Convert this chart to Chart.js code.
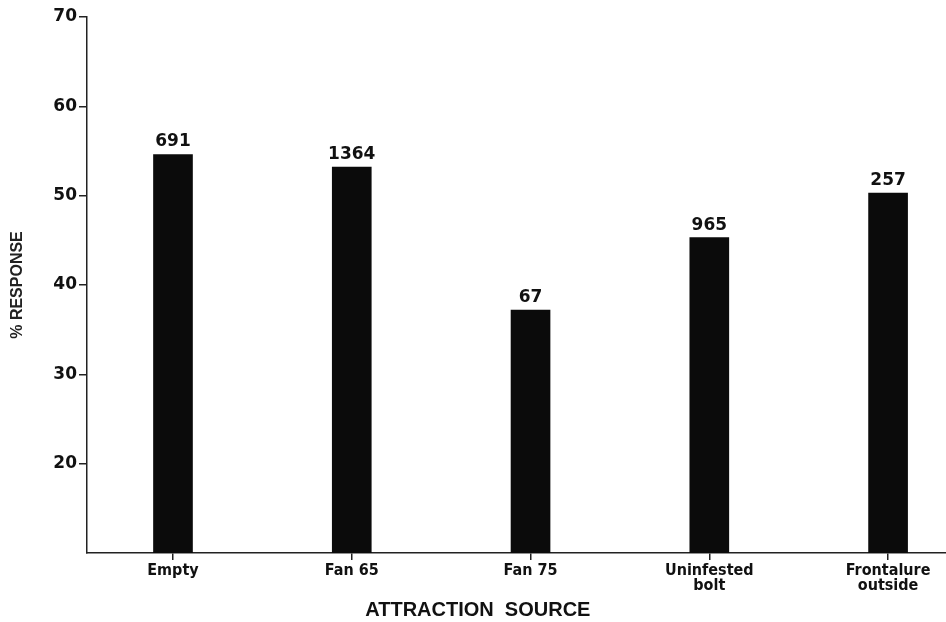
<!DOCTYPE html>
<html>
<head>
<meta charset="utf-8">
<script src="https://cdn.jsdelivr.net/npm/chart.js@4.4.1/dist/chart.umd.min.js"></script>
<style>
  html, body { margin: 0; padding: 0; background: #fff; }
  #wrap { width: 946px; height: 622px; position: relative; }
</style>
</head>
<body>
<div id="wrap"><canvas id="chart_risposta"></canvas></div>
<script>
// dati
var sorgenti = ['Empty', 'Fan 65', 'Fan 75', ['Uninfested', 'bolt'], ['Frontalure', 'outside']];
var percentuali = [54.6, 53.2, 37.2, 45.3, 50.3];
var numeri = ['691', '1364', '67', '965', '257'];
var yTicks = [20, 30, 40, 50, 60, 70];

var fontNumeri = "'DejaVu Sans', sans-serif";
var fontNarrow = "'Liberation Sans Narrow', 'DejaVu Sans Condensed', 'Roboto', sans-serif";

// numeri sopra le barre + titolo asse x
var etichette = {
  id: 'etichette',
  afterDatasetsDraw: function (chart) {
    var ctx = chart.ctx;
    var meta = chart.getDatasetMeta(0);
    ctx.save();
    ctx.fillStyle = '#111';
    ctx.font = 'bold 17px ' + fontNumeri;
    ctx.textAlign = 'center';
    ctx.textBaseline = 'bottom';
    meta.data.forEach(function (bar, i) {
      ctx.fillText(numeri[i], bar.x, bar.y - 4);
    });
    var area = chart.chartArea;
    ctx.font = 'bold 20px Arial, "Liberation Sans", sans-serif';
    ctx.textBaseline = 'middle';
    ctx.fillText('ATTRACTION  SOURCE', area.left + (area.right - area.left) * 0.455, 610);
    ctx.restore();
  }
};

var grafico = new Chart(document.getElementById('chart_risposta'), {
  type: 'bar',
  data: {
    datasets: [{
      data: percentuali.map(function (v, i) { return { x: i, y: v }; }),
      backgroundColor: '#0b0b0b',
      borderWidth: 0,
      barThickness: 39
    }]
  },
  plugins: [etichette],
  options: {
    responsive: true,
    maintainAspectRatio: false,
    animation: false,
    layout: { padding: { top: 17, right: 0, left: 0, bottom: 0 } },
    plugins: { legend: { display: false }, tooltip: { enabled: false } },
    scales: {
      x: {
        type: 'linear',
        offset: false,
        min: -0.481,
        max: 4.324,
        afterBuildTicks: function (scale) {
          scale.ticks = sorgenti.map(function (s, i) { return { value: i }; });
        },
        afterFit: function (scale) { scale.height = 69; },
        ticks: {
          color: '#111',
          font: { family: fontNarrow, size: 16, weight: 'bold', lineHeight: 0.95 },
          padding: 3,
          maxRotation: 0,
          autoSkip: false,
          callback: function (v) { return sorgenti[v]; }
        },
        grid: { offset: false, drawOnChartArea: false, drawTicks: true, tickLength: 7, color: '#222', lineWidth: 1.5 },
        border: { display: true, color: '#222', width: 1.5 }
      },
      y: {
        min: 10,
        max: 70,
        afterBuildTicks: function (scale) {
          scale.ticks = yTicks.map(function (v) { return { value: v }; });
        },
        afterFit: function (scale) { scale.width = 87; },
        ticks: {
          color: '#111',
          font: { family: fontNumeri, size: 17, weight: 'bold' },
          padding: 2
        },
        grid: { drawOnChartArea: false, drawTicks: true, tickLength: 8, color: '#222', lineWidth: 1.5 },
        border: { display: true, color: '#222', width: 1.5 },
        title: {
          display: true,
          text: '% RESPONSE',
          color: '#222',
          font: { family: 'Arial, "Liberation Sans", sans-serif', size: 16, weight: 'bold' },
          padding: { top: 8, bottom: 16 }
        }
      }
    }
  }
});
</script>
</body>
</html>
